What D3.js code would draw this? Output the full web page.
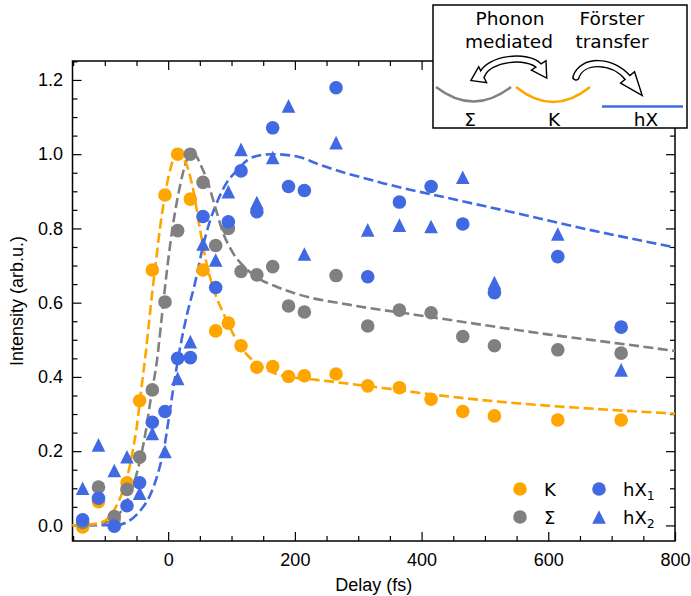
<!DOCTYPE html>
<html>
<head>
<meta charset="utf-8">
<script src="https://cdn.jsdelivr.net/npm/d3@7"></script>
<style>
  body { margin: 0; background: #fff; }
  svg { display: block; }
</style>
</head>
<body>
<svg id="chart" width="691" height="596"></svg>
<script>
// Pump-probe delays (fs)
const delays = [-135, -110, -85, -65, -45, -25, -5, 15, 35, 55, 75, 95, 115,
                140, 165, 190, 215, 265, 315, 365, 415, 465, 515, 615, 715];

// Normalised intensities per valley / state
const kValues = [-0.004, 0.064, 0.015, 0.115, 0.336, 0.688, 0.890, 1.000, 0.879, 0.688, 0.524, 0.545, 0.484,
                 0.426, 0.428, 0.401, 0.403, 0.408, 0.376, 0.371, 0.340, 0.307, 0.295, 0.284, 0.284];
const sigmaValues = [0.008, 0.103, 0.024, 0.097, 0.184, 0.365, 0.602, 0.794, 1.000, 0.924, 0.754, 0.800, 0.684,
                     0.675, 0.697, 0.591, 0.575, 0.673, 0.537, 0.580, 0.573, 0.509, 0.484, 0.473, 0.464];
const hX1Values = [0.015, 0.073, -0.002, 0.053, 0.115, 0.278, 0.307, 0.450, 0.452, 0.832, 0.641, 0.818, 0.955,
                   0.845, 1.071, 0.913, 0.902, 1.179, 0.670, 0.871, 0.913, 0.812, 0.627, 0.724, 0.534];
const hX2Values = [0.100, 0.217, 0.148, 0.185, 0.087, 0.248, 0.199, 0.396, 0.495, 0.758, 0.715, 0.899, 1.013,
                   0.870, 0.991, 1.130, 0.731, 1.031, 0.796, 0.809, 0.805, 0.938, 0.654, 0.785, 0.419];

// Fit curves sampled as [delay, intensity]
const fitK = [[-151, 0], [-120, 0.003], [-100, 0.012], [-90, 0.03], [-80, 0.058], [-70, 0.10], [-60, 0.165],
              [-55, 0.21], [-50, 0.26], [-45, 0.33], [-40, 0.40], [-35, 0.47], [-30, 0.55], [-25, 0.63],
              [-20, 0.70], [-13, 0.80], [-5, 0.89], [0, 0.935], [8, 0.985], [15, 1.0], [22, 0.992],
              [29, 0.972], [40, 0.90], [50, 0.80], [60, 0.71], [74, 0.625], [87, 0.572], [102, 0.518],
              [118, 0.473], [139, 0.437], [165, 0.412], [200, 0.398], [234, 0.392], [339, 0.370],
              [444, 0.347], [550, 0.329], [655, 0.316], [800, 0.301]];
const fitSigma = [[-151, 0], [-110, 0.003], [-95, 0.01], [-79, 0.028], [-64, 0.069], [-48, 0.15], [-35, 0.257],
                  [-27, 0.347], [-18, 0.44], [-10, 0.562], [-2.5, 0.679], [8, 0.814], [18.5, 0.913],
                  [29, 0.982], [37, 1.0], [45, 0.993], [50, 0.976], [63, 0.922], [74, 0.859], [87, 0.787],
                  [102, 0.735], [124, 0.690], [145, 0.663], [171, 0.643], [208, 0.621], [287, 0.594],
                  [392, 0.567], [497, 0.540], [602, 0.514], [707, 0.491], [800, 0.470]];
const fitHX = [[-151, 0], [-80, 0.001], [-64, 0.01], [-43, 0.042], [-27, 0.087], [-16, 0.141], [-6, 0.212],
               [2, 0.30], [10, 0.39], [20, 0.49], [30, 0.57], [42, 0.65], [55, 0.752], [65, 0.815],
               [76, 0.866], [92, 0.922], [108, 0.955], [125, 0.984], [145, 0.997], [165, 1.0], [208, 0.992],
               [234, 0.975], [339, 0.922], [444, 0.881], [550, 0.841], [655, 0.800], [800, 0.749]];

// Axis ticks
const xMajorTicks = [0, 200, 400, 600, 800];
const xMinorTicks = [-150, -100, -50, 50, 100, 150, 250, 300, 350, 450, 500, 550, 650, 700, 750];
const yMajorTicks = [0, 0.2, 0.4, 0.6, 0.8, 1.0, 1.2];
const yMinorTicks = [0.05, 0.1, 0.15, 0.25, 0.3, 0.35, 0.45, 0.5, 0.55, 0.65, 0.7, 0.75,
                     0.85, 0.9, 0.95, 1.05, 1.1, 1.15, 1.25];

const colors = { K: "#FFA500", sigma: "#808080", hX: "#4169E1" };

const svg = d3.select("#chart");
const plotLeft = 72.5, plotRight = 675, plotTop = 61, plotBottom = 541;

const x = d3.scaleLinear().domain([-151, 800]).range([plotLeft, plotRight]);
const y = d3.scaleLinear().domain([-0.042, 1.251]).range([plotBottom, plotTop]);

const tickFont = "'Liberation Sans', Arial, Helvetica, sans-serif";
const dejavu = "'DejaVu Sans', sans-serif";

// ---- axes: ticks point inward on all four sides ----
function styleAxis(g) {
  g.select(".domain").remove();
  g.selectAll(".tick line").attr("stroke", "#000").attr("stroke-width", 1.2);
  g.selectAll(".tick text").attr("font-family", tickFont).attr("font-size", 18).attr("fill", "#000");
}
const majorLen = -9, minorLen = -5;

svg.append("g").attr("transform", `translate(0,${plotBottom})`)
  .call(d3.axisBottom(x).tickValues(xMajorTicks).tickSize(majorLen).tickPadding(12).tickFormat(d3.format("d")))
  .call(styleAxis);
svg.append("g").attr("transform", `translate(0,${plotBottom})`)
  .call(d3.axisBottom(x).tickValues(xMinorTicks).tickSize(minorLen).tickFormat(""))
  .call(styleAxis);
svg.append("g").attr("transform", `translate(0,${plotTop})`)
  .call(d3.axisTop(x).tickValues(xMajorTicks).tickSize(majorLen).tickFormat(""))
  .call(styleAxis);
svg.append("g").attr("transform", `translate(0,${plotTop})`)
  .call(d3.axisTop(x).tickValues(xMinorTicks).tickSize(minorLen).tickFormat(""))
  .call(styleAxis);

svg.append("g").attr("transform", `translate(${plotLeft},0)`)
  .call(d3.axisLeft(y).tickValues(yMajorTicks).tickSize(majorLen).tickPadding(9.5).tickFormat(d3.format(".1f")))
  .call(styleAxis);
svg.append("g").attr("transform", `translate(${plotLeft},0)`)
  .call(d3.axisLeft(y).tickValues(yMinorTicks).tickSize(minorLen).tickFormat(""))
  .call(styleAxis);
svg.append("g").attr("transform", `translate(${plotRight},0)`)
  .call(d3.axisRight(y).tickValues(yMajorTicks).tickSize(majorLen).tickFormat(""))
  .call(styleAxis);
svg.append("g").attr("transform", `translate(${plotRight},0)`)
  .call(d3.axisRight(y).tickValues(yMinorTicks).tickSize(minorLen).tickFormat(""))
  .call(styleAxis);

svg.append("rect")
  .attr("x", plotLeft).attr("y", plotTop).attr("width", plotRight - plotLeft).attr("height", plotBottom - plotTop)
  .attr("fill", "none").attr("stroke", "#000").attr("stroke-width", 1.5);

// axis titles
svg.append("text")
  .attr("x", (plotLeft + plotRight) / 2).attr("y", 591)
  .attr("text-anchor", "middle")
  .attr("font-family", tickFont).attr("font-size", 18)
  .text("Delay (fs)");
svg.append("text")
  .attr("transform", `translate(23,${(plotTop + plotBottom) / 2}) rotate(-90)`)
  .attr("text-anchor", "middle")
  .attr("font-family", tickFont).attr("font-size", 18)
  .text("Intensity (arb.u.)");

// ---- fit curves ----
const fitLine = d3.line().x(d => x(d[0])).y(d => y(d[1])).curve(d3.curveMonotoneX);
const plot = svg.append("g");
[[fitHX, colors.hX], [fitSigma, colors.sigma], [fitK, colors.K]].forEach(([pts, c]) => {
  plot.append("path")
    .attr("d", fitLine(pts))
    .attr("fill", "none")
    .attr("stroke", c)
    .attr("stroke-width", 2.6)
    .attr("stroke-dasharray", "10,4.5");
});

// ---- data markers ----
const markerSize = 13.6;
const r = markerSize / 2;
function triPath(cx, cy) {
  return `M${cx},${cy - r}L${cx + r},${cy + r}L${cx - r},${cy + r}Z`;
}
function drawCircles(values, color) {
  plot.append("g").selectAll("circle")
    .data(delays.map((d, i) => [d, values[i]]))
    .join("circle")
    .attr("cx", d => x(d[0])).attr("cy", d => y(d[1])).attr("r", r)
    .attr("fill", color);
}
function drawTriangles(values, color) {
  plot.append("g").selectAll("path")
    .data(delays.map((d, i) => [d, values[i]]))
    .join("path")
    .attr("d", d => triPath(x(d[0]), y(d[1])))
    .attr("fill", color);
}
drawCircles(kValues, colors.K);
drawCircles(sigmaValues, colors.sigma);
drawTriangles(hX2Values, colors.hX);
drawCircles(hX1Values, colors.hX);

// ---- legend (two columns) ----
const legend = svg.append("g").attr("font-family", dejavu).attr("font-size", 18);
const legendItems = [
  { label: "K", sub: null, color: colors.K, shape: "circle", mx: 520, my: 489 },
  { label: "Σ", sub: null, color: colors.sigma, shape: "circle", mx: 520, my: 517 },
  { label: "hX", sub: "1", color: colors.hX, shape: "circle", mx: 599, my: 489 },
  { label: "hX", sub: "2", color: colors.hX, shape: "triangle", mx: 599, my: 517 }
];
legendItems.forEach(it => {
  if (it.shape === "circle") {
    legend.append("circle").attr("cx", it.mx).attr("cy", it.my).attr("r", r).attr("fill", it.color);
  } else {
    legend.append("path").attr("d", triPath(it.mx, it.my)).attr("fill", it.color);
  }
  const t = legend.append("text").attr("x", it.mx + 24).attr("y", it.my + 7).text(it.label);
  if (it.sub) {
    t.append("tspan").attr("font-size", 12.5).attr("dy", 4).text(it.sub);
  }
});

// ---- inset schematic: Σ → K → hX transfer ----
const inset = svg.append("g");
inset.append("rect")
  .attr("x", 433).attr("y", 5).attr("width", 254).attr("height", 123)
  .attr("fill", "#fff").attr("stroke", "#000").attr("stroke-width", 1.5);

const insetText = inset.append("g")
  .attr("font-family", dejavu).attr("font-size", 18.5).attr("text-anchor", "middle").attr("fill", "#000");
insetText.append("text").attr("x", 510).attr("y", 25).text("Phonon");
insetText.append("text").attr("x", 509).attr("y", 48).text("mediated");
insetText.append("text").attr("x", 612).attr("y", 25).text("Förster");
insetText.append("text").attr("x", 612).attr("y", 48).text("transfer");
insetText.append("text").attr("x", 470).attr("y", 125.5).text("Σ");
insetText.append("text").attr("x", 554).attr("y", 125.5).text("K");
insetText.append("text").attr("x", 646).attr("y", 125.5).text("hX");

// band structure sketches
inset.append("path").attr("d", "M436,87 Q473.5,116 511,87")
  .attr("fill", "none").attr("stroke", colors.sigma).attr("stroke-width", 2.5);
inset.append("path").attr("d", "M516,87 Q553,117 590,87")
  .attr("fill", "none").attr("stroke", colors.K).attr("stroke-width", 2.5);
inset.append("path").attr("d", "M602,106.5 L683,106.5")
  .attr("fill", "none").attr("stroke", colors.hX).attr("stroke-width", 2.5);

// outlined curved arrows: black silhouette first, white interior on top
function headPoly(h) {
  const dx = h.tip[0] - h.base[0], dy = h.tip[1] - h.base[1];
  const len = Math.hypot(dx, dy);
  const nx = -dy / len, ny = dx / len;
  return [[h.base[0] + nx * h.hw, h.base[1] + ny * h.hw], h.tip, [h.base[0] - nx * h.hw, h.base[1] - ny * h.hw]]
    .map(p => p.join(",")).join(" ");
}
function drawArrow(d, heads) {
  const g = inset.append("g");
  g.append("path").attr("d", d).attr("fill", "none").attr("stroke", "#000")
    .attr("stroke-width", 7.5).attr("stroke-linecap", "round");
  heads.forEach(h => g.append("polygon").attr("points", headPoly(h))
    .attr("fill", "#000").attr("stroke", "#000").attr("stroke-width", 2.8).attr("stroke-linejoin", "miter"));
  g.append("path").attr("d", d).attr("fill", "none").attr("stroke", "#fff")
    .attr("stroke-width", 4.6).attr("stroke-linecap", "round");
  heads.forEach(h => g.append("polygon").attr("points", headPoly(h)).attr("fill", "#fff"));
}
drawArrow("M482,75 C488,58 528,54 539,66", [
  { base: [539, 66], tip: [546, 77], hw: 7.5 },
  { base: [482, 75], tip: [472, 80], hw: 7.5 }
]);
drawArrow("M576,77 C582,59 612,59 628,78", [
  { base: [628, 78], tip: [641, 94], hw: 8 }
]);
</script>
</body>
</html>
